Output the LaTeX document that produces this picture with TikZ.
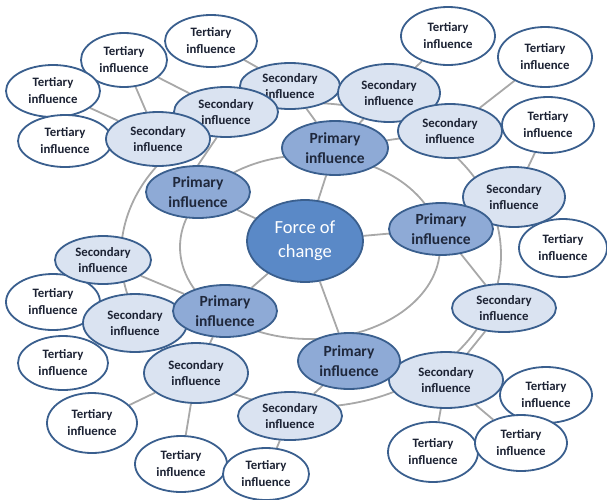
\documentclass[tikz,border=0pt]{standalone}
\usepackage{fontspec}
\setmainfont{Carlito}
\usetikzlibrary{shapes.geometric}
\pgfdeclarelayer{background}
\pgfsetlayers{background,main}
\definecolor{linegray}{HTML}{A8A8A8}
\definecolor{navyline}{HTML}{3A5F8E}
\definecolor{secfill}{HTML}{DAE3F1}
\definecolor{primfill}{HTML}{8EAAD6}
\definecolor{cenfill}{HTML}{5A89C7}
\definecolor{txtdark}{HTML}{1C2233}
\tikzset{
  bubble/.style={ellipse, draw=navyline, line width=1.8pt, inner sep=0pt, align=center, text=txtdark},
  sz/.style 2 args={minimum width=#1pt, minimum height=#2pt},
  tert/.style={bubble, fill=white, font=\fontsize{12.8}{17}\selectfont\bfseries},
  sec/.style={bubble, fill=secfill, font=\fontsize{12.8}{15.5}\selectfont\bfseries},
  prim/.style={bubble, fill=primfill, font=\fontsize{15.5}{19.5}\selectfont\bfseries, text=txtdark!90!navyline},
  cen/.style={bubble, fill=cenfill, text=white, font=\fontsize{18.5}{24}\selectfont},
  conn/.style={draw=linegray, line width=1.8pt},
}
\begin{document}
\begin{tikzpicture}[x=1pt,y=-1pt]
\useasboundingbox (0,0) rectangle (607,499);
% tertiary
\node[tert, sz={86}{54}] (T1) at (124,60) {Tertiary\\influence};
\node[tert, sz={92}{52}] (T2) at (211,41) {Tertiary\\influence};
\node[tert, sz={94}{52}] (T3) at (53,91) {Tertiary\\influence};
\node[tert, sz={94}{52}] (T4) at (65,141) {Tertiary\\influence};
\node[tert, sz={94}{58}] (T5) at (448,36) {Tertiary\\influence};
\node[tert, sz={94}{60}] (T6) at (545,57) {Tertiary\\influence};
\node[tert, sz={92}{56}] (T7) at (548,125) {Tertiary\\influence};
\node[tert, sz={88}{58}] (T8) at (563,248) {Tertiary\\influence};
\node[tert, sz={92}{56}] (T9) at (546,395) {Tertiary\\influence};
\node[tert, sz={90}{60}] (T11) at (433,452) {Tertiary\\influence};
\node[tert, sz={92}{56}] (T10) at (521,443) {Tertiary\\influence};
\node[tert, sz={92}{56}] (T13) at (181,464) {Tertiary\\influence};
\node[tert, sz={86}{52}] (T12) at (266,474) {Tertiary\\influence};
\node[tert, sz={90}{60}] (T14) at (92,423) {Tertiary\\influence};
\node[tert, sz={90}{54}] (T15) at (63,363) {Tertiary\\influence};
\node[tert, sz={94}{56}] (T16) at (53,302) {Tertiary\\influence};
% secondary
\node[sec, sz={100}{46}] (S3) at (290,86) {Secondary\\influence};
\node[sec, sz={104}{50}] (S2) at (226,112) {Secondary\\influence};
\node[sec, sz={104}{54}] (S1) at (158,139) {Secondary\\influence};
\node[sec, sz={102}{58}] (S4) at (389,93) {Secondary\\influence};
\node[sec, sz={104}{54}] (S5) at (450,131) {Secondary\\influence};
\node[sec, sz={102}{60}] (S6) at (514,197) {Secondary\\influence};
\node[sec, sz={104}{48}] (S7) at (504,308) {Secondary\\influence};
\node[sec, sz={114}{56}] (S8) at (446,380) {Secondary\\influence};
\node[sec, sz={104}{48}] (S9) at (290,416) {Secondary\\influence};
\node[sec, sz={104}{58}] (S11) at (135,323) {Secondary\\influence};
\node[sec, sz={104}{60}] (S10) at (196,373) {Secondary\\influence};
\node[sec, sz={96}{48}] (S12) at (103,260) {Secondary\\influence};
% primary
\node[prim, sz={106}{54}] (P1) at (335,148) {Primary\\influence};
\node[prim, sz={104}{52}] (P2) at (198,192) {Primary\\influence};
\node[prim, sz={104}{52}] (P3) at (441,229) {Primary\\influence};
\node[prim, sz={104}{52}] (P4) at (225,311) {Primary\\influence};
\node[prim, sz={102}{56}] (P5) at (349,361) {Primary\\influence};
% centre
\node[cen, sz={116}{82}] (C) at (305,241) {Force of\\change};
\begin{pgfonlayer}{background}
  \draw[conn] (311,255) ellipse [x radius=190pt, y radius=152pt];
  \draw[conn] (310,247) ellipse [x radius=130pt, y radius=92pt];
  \foreach \p in {P1,P2,P3,P4,P5} \draw[conn] (C) -- (\p);
  \draw[conn] (P1) -- (S3);
  \draw[conn] (P1) -- (S4);
  \draw[conn] (P1) -- (S5);
  \draw[conn] (S2.250) -- (P2.north);
  \draw[conn] (P3) -- (S7);
  \draw[conn] (P4) -- (S12);
  \draw[conn] (P4) -- (S10);
  \draw[conn] (P5) -- (S9);
  \draw[conn] (S1) -- (T1);
  \draw[conn] (S1) -- (T3);
  \draw[conn] (S1) -- (T4);
  \draw[conn] (S2) -- (T1);
  \draw[conn] (S3) -- (T2);
  \draw[conn] (S4) -- (T5);
  \draw[conn] (S5) -- (T6);
  \draw[conn] (S6) -- (T7);
  \draw[conn] (S7) -- (S8);
  \draw[conn] (S8) -- (T10);
  \draw[conn] (S8) -- (T11);
  \draw[conn] (S9) -- (T12);
  \draw[conn] (S10) -- (T13);
  \draw[conn] (S10) -- (T14);
\end{pgfonlayer}
\end{tikzpicture}
\end{document}
